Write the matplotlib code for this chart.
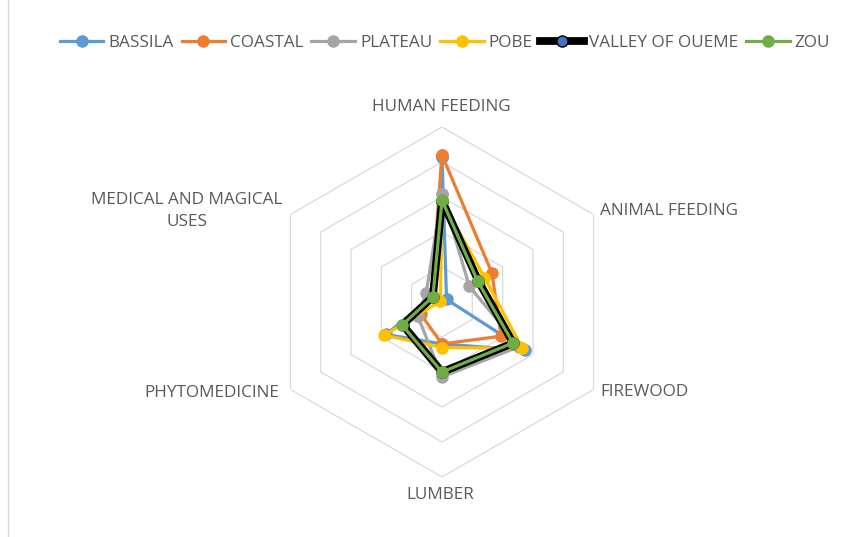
import numpy as np
import matplotlib
matplotlib.use("Agg")
import matplotlib.pyplot as plt
from matplotlib.lines import Line2D

categories = ["HUMAN FEEDING", "ANIMAL FEEDING", "FIREWOOD", "LUMBER",
              "PHYTOMEDICINE", "MEDICAL AND MAGICAL\nUSES"]
series_names = ["BASSILA", "COASTAL", "PLATEAU", "POBE", "VALLEY OF OUEME", "ZOU"]
bassila = [41.5, 1.5, 27.5, 12, 18.5, 3]
coastal = [42, 16.5, 19.5, 12, 7, 3.5]
plateau = [31, 9, 25.5, 21.4, 8, 5.2]
pobe = [29, 14, 26.5, 13, 19, 0.5]
valley = [29, 12, 23.5, 20, 13, 3]
zou = [29.1, 11.8, 23.4, 20, 13.2, 3]
ring_values = [10, 20, 30, 40, 50]

W, H = 864, 537
fig = plt.figure(figsize=(W / 100, H / 100), dpi=100)
fig.patch.set_facecolor("white")

cx, cy, R = 442, 302, 175
ax = fig.add_axes([(cx - R) / W, (H - cy - R) / H, 2 * R / W, 2 * R / H], projection="polar")
ax.set_theta_offset(np.pi / 2)
ax.set_theta_direction(-1)
ax.set_ylim(0, 50)
ax.grid(False)
ax.spines["polar"].set_visible(False)
ax.set_xticks([])
ax.set_yticks([])
ax.patch.set_alpha(0)

n = len(categories)
angles = np.linspace(0, 2 * np.pi, n, endpoint=False)
ang_c = np.concatenate([angles, angles[:1]])

for rv in ring_values:
    ax.plot(ang_c, [rv] * (n + 1), color="#d9d9d9", lw=0.9, zorder=1)

styles = [
    dict(color="#5B9BD5", lw=2.3, mfc="#5B9BD5", mec="#5B9BD5"),
    dict(color="#ED7D31", lw=2.3, mfc="#ED7D31", mec="#ED7D31"),
    dict(color="#A5A5A5", lw=2.3, mfc="#A5A5A5", mec="#A5A5A5"),
    dict(color="#FFC000", lw=2.3, mfc="#FFC000", mec="#FFC000"),
    dict(color="#000000", lw=5.6, mfc="#4472C4", mec="#000000"),
    dict(color="#70AD47", lw=2.3, mfc="#70AD47", mec="#70AD47"),
]
data = [bassila, coastal, plateau, pobe, valley, zou]
for i, (name, vals, st) in enumerate(zip(series_names, data, styles)):
    v = list(vals) + [vals[0]]
    ax.plot(ang_c, v, color=st["color"], lw=st["lw"], marker="o", ms=8,
            mfc=st["mfc"], mec=st["mec"], mew=1.0, label=name, zorder=3 + i,
            solid_joinstyle="round")

txt_color = "#595959"
fs = 12.3
font = "Open Sans"
label_pos = [(441, 107, "center"), (669, 211, "center"), (644, 392, "center"),
             (440, 495, "center"), (212, 393, "center"), (187, 211, "center")]
for lab, (px, py, ha) in zip(categories, label_pos):
    fig.text(px / W, 1 - py / H, lab, ha=ha, va="center", fontsize=fs,
             color=txt_color, family=font, linespacing=1.45)

handles, labels = ax.get_legend_handles_labels()
leg = fig.legend(handles, labels, loc="center", bbox_to_anchor=(445 / W, 1 - 43 / H),
                 ncol=6, frameon=False, handlelength=2.55, handletextpad=0.3,
                 columnspacing=0.45, prop={"family": font, "size": fs})
for t in leg.get_texts():
    t.set_color(txt_color)

fig.add_artist(Line2D([8 / W, 8 / W], [0, 1], transform=fig.transFigure,
                      color="#d9d9d9", lw=1))

fig.savefig("out.png", dpi=100, facecolor="white")
